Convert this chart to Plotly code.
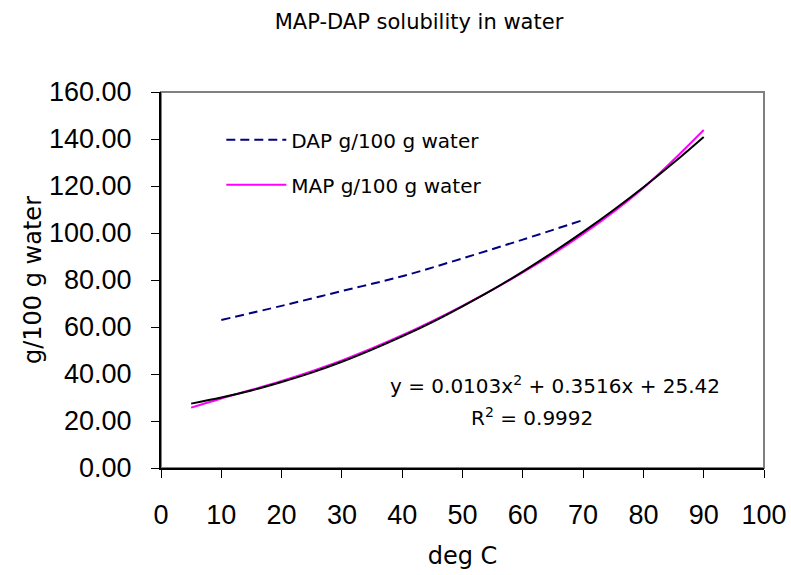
import plotly.graph_objects as go

# ---- data ----
dap_temp = [10, 20, 30, 40, 50, 60, 70]
dap_sol = [63.0, 69.0, 75.3, 81.6, 89.2, 97.2, 105.5]

map_temp = [5, 10, 20, 30, 40, 50, 60, 70, 80, 90]
map_sol = [25.7, 29.6, 37.0, 45.8, 56.5, 69.0, 83.2, 99.6, 119.2, 143.8]

trend_temp = [5, 10, 15, 20, 25, 30, 35, 40, 45, 50, 55, 60, 65, 70, 75, 80, 85, 90]
trend_sol = [27.4, 30.0, 33.0, 36.6, 40.6, 45.2, 50.4, 56.0, 62.1, 68.8, 75.9, 83.6, 91.8, 100.5, 109.7, 119.5, 129.9, 140.9]

x_ticks = [0, 10, 20, 30, 40, 50, 60, 70, 80, 90, 100]
y_ticks = [0, 20, 40, 60, 80, 100, 120, 140, 160]

title_text = "MAP-DAP solubility in water"
x_title = "deg C"
y_title = "g/100 g water"
eq_text = "y = 0.0103x<sup>2</sup> + 0.3516x + 25.42"
r2_text = "R<sup>2</sup> = 0.9992"

NUMFONT = "Liberation Sans, Arial, sans-serif"
TXTFONT = "DejaVu Sans, sans-serif"

fig = go.Figure()
fig.add_trace(go.Scatter(x=dap_temp, y=dap_sol, mode="lines", name="DAP g/100 g water",
                         legendgroup="dap",
                         line=dict(color="#000080", width=2, dash="9px,5px"), line_shape="spline"))
fig.add_trace(go.Scatter(x=map_temp, y=map_sol, mode="lines", name="MAP g/100 g water",
                         legendgroup="map",
                         line=dict(color="#FF00FF", width=2), line_shape="spline"))
fig.add_trace(go.Scatter(x=trend_temp, y=trend_sol, mode="lines", showlegend=False,
                         line=dict(color="black", width=2), line_shape="spline"))

axis_common = dict(showgrid=False, zeroline=False, showline=True, linecolor="black",
                   linewidth=2, tickcolor="black", tickwidth=1, ticklen=8, automargin=False)

fig.update_layout(
    width=791, height=575,
    margin=dict(l=161, r=27, t=92, b=107),
    paper_bgcolor="white", plot_bgcolor="white",
    font=dict(family=TXTFONT, color="black"),
    title=dict(text=title_text, x=419 / 791, xref="container", xanchor="center",
               y=1 - 22 / 575, yref="container", yanchor="middle",
               font=dict(size=21, family=TXTFONT)),
    xaxis=dict(range=[0, 100], tickvals=x_ticks, ticks="outside", ticklabelstandoff=14,
               tickfont=dict(size=27, family=NUMFONT),
               title=dict(text=x_title, font=dict(size=24, family=TXTFONT), standoff=18),
               **axis_common),
    yaxis=dict(range=[0, 160], tickvals=y_ticks, tickformat=".2f", ticks="outside",
               ticklabelstandoff=14, tickfont=dict(size=27, family=NUMFONT),
               title=dict(text=y_title, font=dict(size=24, family=TXTFONT), standoff=1),
               **axis_common),
    xaxis2=dict(range=[0, 100], tickvals=x_ticks, ticks="inside", overlaying="x", anchor="y2",
                showticklabels=False, **axis_common),
    yaxis2=dict(range=[0, 160], tickvals=y_ticks, ticks="inside", overlaying="y", anchor="x2",
                showticklabels=False, **axis_common),
    legend=dict(x=0.10, y=0.925, xanchor="left", yanchor="top", bgcolor="rgba(0,0,0,0)",
                font=dict(size=20, family=TXTFONT), traceorder="grouped", tracegroupgap=16,
                itemwidth=60),
    showlegend=True,
)

# Excel-style grey plot-area border
fig.add_shape(type="rect", xref="x domain", yref="y domain", x0=0, x1=1, y0=0, y1=1,
              line=dict(color="#808080", width=2), layer="below")

fig.add_annotation(text=eq_text, x=0.653, y=0.221, xref="paper", yref="paper",
                   showarrow=False, font=dict(size=20, family=TXTFONT),
                   xanchor="center", yanchor="middle")
fig.add_annotation(text=r2_text, x=0.615, y=0.136, xref="paper", yref="paper",
                   showarrow=False, font=dict(size=20, family=TXTFONT),
                   xanchor="center", yanchor="middle")

fig.write_html("out.html")
